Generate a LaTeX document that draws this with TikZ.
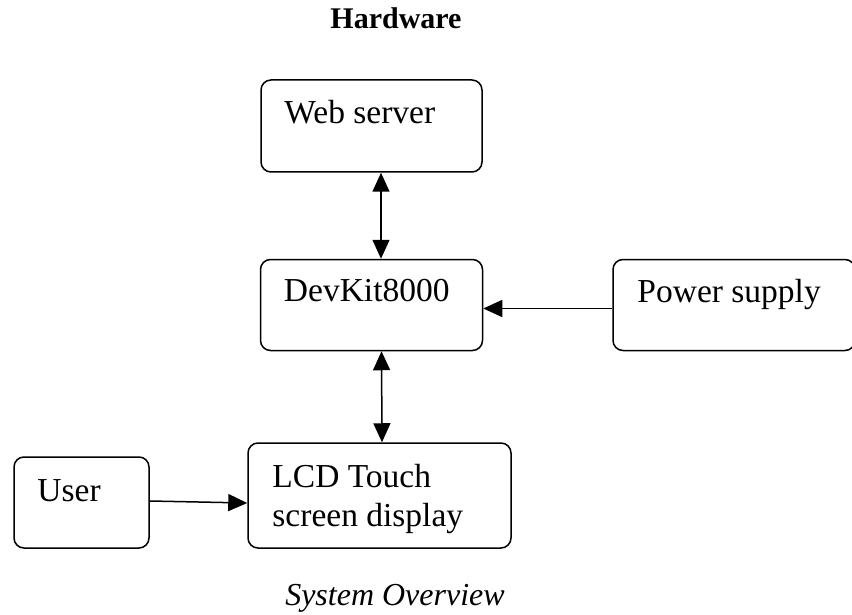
\documentclass[tikz,border=0pt]{standalone}
\usepackage{fontspec}
\setmainfont{Liberation Serif}
\usetikzlibrary{
    positioning,
    arrows.meta
}

\begin{document}
\begin{tikzpicture}[
      x=1pt, y=-1pt,
      % Define styles for the elements
      box/.style={
          rectangle,
          draw,
          line width=1.5pt,
          rounded corners=10pt,
          inner sep=0pt
        },
      boxtext/.style={
          anchor=base west,
          inner sep=0pt,
          align=left,
          font=\fontsize{33.5}{39}\selectfont
        },
      arrow/.style={
          -{Triangle[length=19pt,width=17pt]}, % Arrow tip style
          line width=1.5pt
        },
      twoway/.style={
          {Triangle[length=19pt,width=17pt]}-{Triangle[length=19pt,width=17pt]},
          line width=1.5pt
        }
    ]

    \useasboundingbox (0,0) rectangle (852,615);

    % Place the boxes
    \node[box, minimum width=221pt, minimum height=92pt] (web) at (371.5,126) {};
    \node[box, minimum width=222pt, minimum height=91pt, below=86pt of web] (devkit) {};
    \node[box, minimum width=242pt, minimum height=91pt, right=129pt of devkit] (power) {};
    \node[box, minimum width=263pt, minimum height=105pt] (lcd) at (379.5,495.5) {};
    \node[box, minimum width=135pt, minimum height=91pt] (user) at (81.5,502.5) {};

    % Texts inside the boxes (base = last line)
    \node[boxtext] (webtext) at ([xshift=24pt,yshift=-44pt]web.north west) {Web server};
    \node[boxtext] (devkittext) at ([xshift=24pt,yshift=-43pt]devkit.north west) {DevKit8000};
    \node[boxtext] (powertext) at ([xshift=25pt,yshift=-44pt]power.north west) {Power supply};
    \node[boxtext] (lcdtext) at ([xshift=25pt,yshift=-84pt]lcd.north west) {LCD Touch\\screen display};
    \node[boxtext] (usertext) at ([xshift=24pt,yshift=-45pt]user.north west) {User};

    % Heading and caption
    \node[anchor=base, inner sep=0pt, font=\bfseries\fontsize{30}{34}\selectfont] (heading) at (396,29) {Hardware};
    \node[anchor=base, inner sep=0pt, font=\itshape\fontsize{32}{36}\selectfont] (caption) at (395,605) {System Overview};

    % Draw the arrows connecting the boxes
    \draw[twoway] ([xshift=9.5pt]web.south) -- ([xshift=9.5pt]devkit.north);
    \draw[twoway] ([xshift=10pt]devkit.south) -- ([xshift=2.5pt]lcd.north);
    \draw[arrow] ([yshift=-3.5pt]power.west) -- ([yshift=-3.5pt]devkit.east);
    \draw[arrow] ([yshift=1.5pt]user.east) -- ([yshift=-7.5pt]lcd.west);

  \end{tikzpicture}
\end{document}
